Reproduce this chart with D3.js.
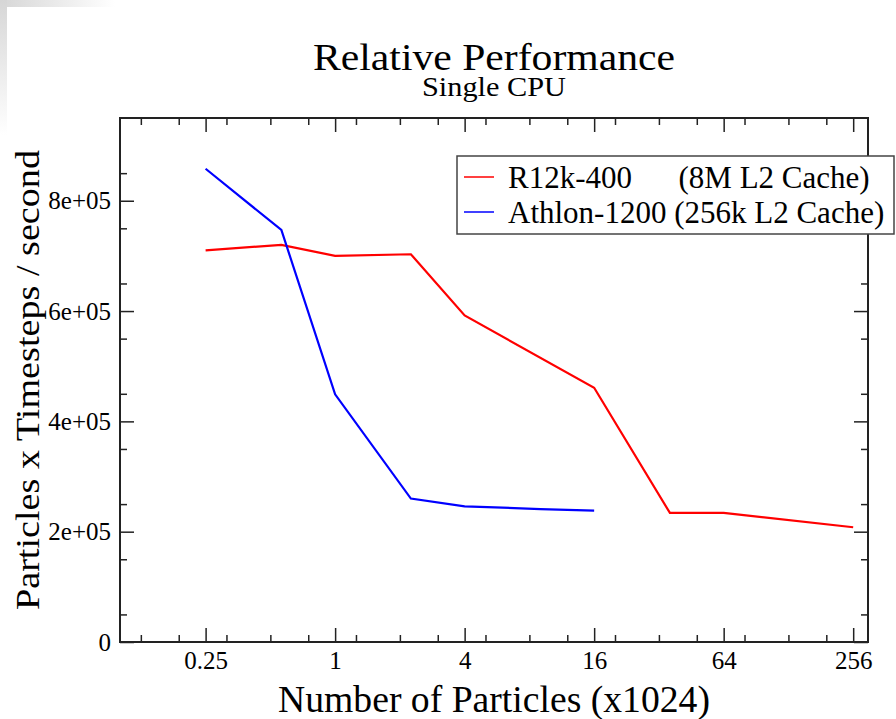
<!DOCTYPE html>
<html>
<head>
<meta charset="utf-8">
<script src="https://cdn.jsdelivr.net/npm/d3@7"></script>
<style>
  body { margin: 0; background: #fff; }
  svg text { font-family: "Liberation Serif", "DejaVu Serif", serif; fill: #000; }
</style>
</head>
<body>
<svg class="chart"></svg>
<script>
// particle counts (x1024) and throughput for each machine
var r12kX = [0.25, 0.5625, 1, 2.25, 4, 16, 36, 64, 256];
var r12kY = [710000, 720000, 700000, 703000, 592000, 461000, 234000, 234000, 208000];
var athlonX = [0.25, 0.5625, 1, 2.25, 4, 9, 16];
var athlonY = [858000, 747000, 449000, 260000, 246000, 241000, 238000];

var xTicks = [0.25, 1, 4, 16, 64, 256];
var xTickLabels = ["0.25", "1", "4", "16", "64", "256"];
var yTicks = [0, 200000, 400000, 600000, 800000];
var yTickLabels = ["0", "2e+05", "4e+05", "6e+05", "8e+05"];

var legendNames = ["R12k-400      (8M L2 Cache)", "Athlon-1200 (256k L2 Cache)"];
var seriesColors = ["#ff0000", "#0000ff"];

function show() {
    'use strict';
    var W = 896, H = 719;
    var margin = {top: 118, bottom: 77, right: 28, left: 120},
        width = W - margin.left - margin.right,
        height = H - margin.top - margin.bottom;

    var root = d3.select(".chart").attr("width", W).attr("height", H);

    // faint frame shadow in the top left corner
    var defs = root.append("defs");
    var gh = defs.append("linearGradient").attr("id", "shTop");
    gh.append("stop").attr("offset", "0%").attr("stop-color", "#d6d6d6");
    gh.append("stop").attr("offset", "100%").attr("stop-color", "#fff");
    var gv = defs.append("linearGradient").attr("id", "shLeft")
        .attr("x1", 0).attr("y1", 0).attr("x2", 0).attr("y2", 1);
    gv.append("stop").attr("offset", "0%").attr("stop-color", "#d6d6d6");
    gv.append("stop").attr("offset", "100%").attr("stop-color", "#fff");
    root.append("rect").attr("x", 0).attr("y", 0).attr("width", 115).attr("height", 7).attr("fill", "url(#shTop)");
    root.append("rect").attr("x", 0).attr("y", 0).attr("width", 7).attr("height", 135).attr("fill", "url(#shLeft)");

    var svg = root.append("g")
        .attr("transform", "translate(" + margin.left + "," + margin.top + ")");

    var x = d3.scaleLog().base(2).domain([0.1, 300]).range([0, width]);
    var y = d3.scaleLinear().domain([0, 950000]).range([height, 0]);

    // minor ticks: 1.25, 2, 3 times each major
    var xMinor = [];
    [0.0625].concat(xTicks).forEach(function(m) {
        [1.25, 2, 3].forEach(function(k) {
            var v = m * k;
            if (v > 0.1 && v < 300) xMinor.push(v);
        });
    });
    var yMinor = d3.range(50000, 950000, 100000);

    var axisCol = "#222";
    function tickAxis(axis, ticks, size, fmt) {
        return axis.tickValues(ticks).tickSizeInner(size).tickSizeOuter(0).tickFormat(fmt || "");
    }

    // bottom / top / left / right, ticks pointing inward
    var bottom = svg.append("g").attr("transform", "translate(0," + height + ")");
    bottom.call(tickAxis(d3.axisBottom(x), xMinor, -7));
    bottom.append("g").call(tickAxis(d3.axisBottom(x), xTicks, -14, function(d, i) { return xTickLabels[i]; }));
    var top = svg.append("g");
    top.call(tickAxis(d3.axisTop(x), xMinor, -7));
    top.append("g").call(tickAxis(d3.axisTop(x), xTicks, -14));
    var left = svg.append("g");
    left.call(tickAxis(d3.axisLeft(y), yMinor, -7));
    left.append("g").call(tickAxis(d3.axisLeft(y), yTicks, -14, function(d, i) { return yTickLabels[i]; }));
    var right = svg.append("g").attr("transform", "translate(" + width + ",0)");
    right.call(tickAxis(d3.axisRight(y), yMinor, -7));
    right.append("g").call(tickAxis(d3.axisRight(y), yTicks, -14));

    svg.selectAll(".domain").remove();
    svg.selectAll(".tick line").attr("stroke", axisCol).attr("stroke-width", 1.5);
    svg.selectAll(".tick text").attr("font-size", 25).attr("fill", "#000")
        .style("font-family", "Liberation Serif, serif");
    bottom.selectAll(".tick text").attr("dy", null).attr("y", 27);
    left.selectAll(".tick text").attr("x", -9).attr("dy", "0.33em");

    svg.append("rect").attr("x", 0).attr("y", 0).attr("width", width).attr("height", height)
        .attr("fill", "none").attr("stroke", axisCol).attr("stroke-width", 2);

    var line = d3.line()
        .x(function(d) { return x(d[0]); })
        .y(function(d) { return y(d[1]); });

    var series = [d3.zip(r12kX, r12kY), d3.zip(athlonX, athlonY)];
    svg.selectAll("path.series").data(series).enter().append("path")
        .attr("class", "series")
        .attr("fill", "none")
        .attr("stroke", function(d, i) { return seriesColors[i]; })
        .attr("stroke-width", 2.2)
        .attr("stroke-linejoin", "miter")
        .attr("d", line);

    // legend
    var lg = root.append("g").attr("transform", "translate(457,156)");
    lg.append("rect").attr("width", 437).attr("height", 78)
        .attr("fill", "#fff").attr("stroke", "#444").attr("stroke-width", 1.5);
    var items = lg.selectAll("g.item").data(legendNames).enter().append("g")
        .attr("class", "item")
        .attr("transform", function(d, i) { return "translate(0," + (21 + i * 35) + ")"; });
    items.append("line").attr("x1", 7).attr("x2", 37).attr("y1", 0).attr("y2", 0)
        .attr("stroke", function(d, i) { return seriesColors[i]; }).attr("stroke-width", 1.5);
    items.append("text").attr("x", 51).attr("y", 11).attr("font-size", 31)
        .style("white-space", "pre").text(function(d) { return d; });

    // titles
    var cx = margin.left + width / 2;
    root.append("text").attr("x", cx - 181).attr("y", 70)
        .attr("font-size", 38).attr("textLength", 362).attr("lengthAdjust", "spacingAndGlyphs")
        .text("Relative Performance");
    root.append("text").attr("x", cx - 72).attr("y", 96)
        .attr("font-size", 27).attr("textLength", 144).attr("lengthAdjust", "spacingAndGlyphs")
        .text("Single CPU");
    root.append("text").attr("x", cx - 216).attr("y", 712)
        .attr("font-size", 37).attr("textLength", 432).attr("lengthAdjust", "spacingAndGlyphs")
        .text("Number of Particles (x1024)");
    root.append("text").attr("transform", "translate(39," + (margin.top + height / 2 + 230) + ") rotate(-90)")
        .attr("font-size", 34).attr("textLength", 460).attr("lengthAdjust", "spacingAndGlyphs")
        .text("Particles x Timesteps / second");
}
show();
</script>
</body>
</html>
